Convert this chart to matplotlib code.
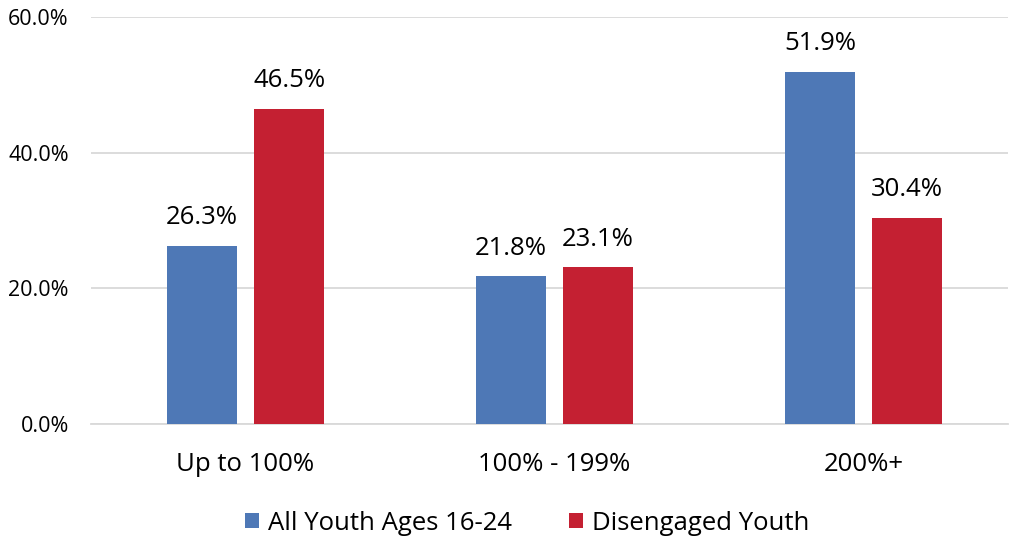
import numpy as np
import matplotlib.pyplot as plt
from matplotlib.ticker import FuncFormatter

plt.rcParams['font.family'] = ['Open Sans', 'DejaVu Sans']

categories = ['Up to 100%', '100% - 199%', '200%+']
all_youth = [26.3, 21.8, 51.9]
disengaged = [46.5, 23.1, 30.4]
series_names = ['All Youth Ages 16-24', 'Disengaged Youth']
blue = '#4e78b6'
red = '#c42032'

fig = plt.figure(figsize=(10.1, 5.39), dpi=100)
ax = fig.add_axes([0.0901, 0.2133, 0.908, 0.755])

x = np.arange(len(categories))
width = 0.2265
offset = 0.141
b1 = ax.bar(x - offset, all_youth, width, color=blue, label=series_names[0], zorder=3)
b2 = ax.bar(x + offset, disengaged, width, color=red, label=series_names[1], zorder=3)

for bars, vals in ((b1, all_youth), (b2, disengaged)):
    for rect, v in zip(bars, vals):
        ax.text(rect.get_x() + rect.get_width() / 2, v + 2.3, '%.1f%%' % v,
                ha='center', va='bottom', fontsize=18.5)

ax.set_xlim(-0.5, 2.468)
ax.set_ylim(0, 60)
ax.set_yticks([0, 20, 40, 60])
ax.yaxis.set_major_formatter(FuncFormatter(lambda v, p: '%.1f%%' % v))
ax.set_xticks(x)
ax.set_xticklabels(categories, fontsize=18.5)
ax.tick_params(axis='y', labelsize=15.5, length=0, pad=16)
ax.tick_params(axis='x', length=0, pad=20)
ax.grid(axis='y', color='#d9d9d9', linewidth=1.3, zorder=0)
for s in ['top', 'right', 'left']:
    ax.spines[s].set_visible(False)
ax.spines['bottom'].set_color('#d9d9d9')
ax.spines['bottom'].set_linewidth(1.3)

fig.legend(loc='lower center', bbox_to_anchor=(0.522, -0.037), ncol=2, frameon=False,
           fontsize=18.5, handlelength=0.55, handleheight=0.55, handletextpad=0.35,
           columnspacing=2.2)

fig.savefig('out.png', dpi=100)
